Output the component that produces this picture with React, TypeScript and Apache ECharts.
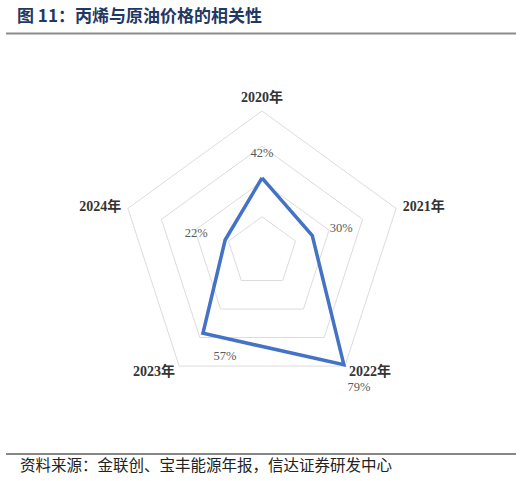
import React from 'react';
import * as echarts from 'echarts';

const titleText = '图 11：丙烯与原油价格的相关性';
const sourceText = '资料来源：金联创、宝丰能源年报，信达证券研发中心';

const years = ['2020年', '2021年', '2022年', '2023年', '2024年'];
const correlation = [42, 30, 79, 57, 22];
const axisMax = 80;

// ECharts lays radar indicators out counter-clockwise, the picture runs clockwise
const drawOrder = [0, 4, 3, 2, 1];

// where each value label sits against its vertex
const labelPlacement: {
  position: 'top' | 'right' | 'left' | 'bottom';
  distance: number;
  offset: [number, number];
}[] = [
  { position: 'top', distance: 18, offset: [0, 0] },
  { position: 'right', distance: 17, offset: [0, -8] },
  { position: 'bottom', distance: 16, offset: [15, 0] },
  { position: 'bottom', distance: 16, offset: [22, 0] },
  { position: 'left', distance: 17, offset: [0, -7] },
];

const SERIF = '"Liberation Serif", "DejaVu Serif", "Noto Sans CJK SC", serif';
const CJK = '"Noto Sans CJK SC", sans-serif';

const buildOption = (): echarts.EChartsOption => {
  const values = drawOrder.map((i) => correlation[i]);

  const labelSeries = correlation.map((target, i) => ({
    type: 'radar' as const,
    silent: true,
    symbol: 'circle',
    symbolSize: 1,
    itemStyle: { color: 'rgba(0,0,0,0)' },
    lineStyle: { opacity: 0 },
    label: {
      show: true,
      position: labelPlacement[i].position,
      distance: labelPlacement[i].distance,
      offset: labelPlacement[i].offset,
      color: '#5a5a5a',
      textBorderWidth: 0,
      fontSize: 12.5,
      fontFamily: SERIF,
      formatter: (p: any) => (p.value === target ? `${target}%` : ''),
    },
    data: [{ value: values }],
  }));

  return {
    animation: false,
    backgroundColor: '#fff',
    radar: {
      center: [262, 252],
      radius: 141,
      splitNumber: 4,
      startAngle: 90,
      indicator: drawOrder.map((i) => ({ name: years[i], min: 0, max: axisMax })),
      axisName: {
        color: '#333',
        fontSize: 14,
        fontWeight: 'bold',
        fontFamily: SERIF,
      },
      nameGap: 7,
      axisLine: { show: false },
      axisTick: { show: false },
      axisLabel: { show: false },
      splitArea: { show: false },
      splitLine: { lineStyle: { color: '#dcdcdc', width: 1 } },
    },
    series: [
      {
        type: 'radar',
        silent: true,
        symbol: 'none',
        lineStyle: { color: '#4472c4', width: 3.5, join: 'miter' } as any,
        data: [{ value: values }],
      },
      ...labelSeries,
    ] as any,
    graphic: [
      {
        type: 'text',
        left: 17,
        top: 6,
        style: {
          text: titleText,
          fontSize: 17,
          fontWeight: 'bold',
          fill: '#1f3864',
          fontFamily: CJK,
        },
      },
      {
        type: 'line',
        shape: { x1: 6, y1: 33.5, x2: 516, y2: 33.5 },
        style: { stroke: '#8c8c8c', lineWidth: 2 },
      },
      {
        type: 'line',
        shape: { x1: 6, y1: 454, x2: 516, y2: 454 },
        style: { stroke: '#111', lineWidth: 1 },
      },
      {
        type: 'text',
        left: 20,
        top: 456,
        style: {
          text: sourceText,
          fontSize: 15.5,
          fill: '#222',
          fontFamily: CJK,
        },
      },
    ],
  };
};

export default function App() {
  const ref = React.useRef<HTMLDivElement>(null);

  React.useEffect(() => {
    if (!ref.current) return;
    const chart = echarts.init(ref.current, undefined, { renderer: 'svg' });
    chart.setOption(buildOption());
    return () => {
      chart.dispose();
    };
  }, []);

  return (
    <div
      ref={ref}
      style={{ position: 'absolute', left: 0, top: 0, width: 528, height: 481 }}
    />
  );
}
